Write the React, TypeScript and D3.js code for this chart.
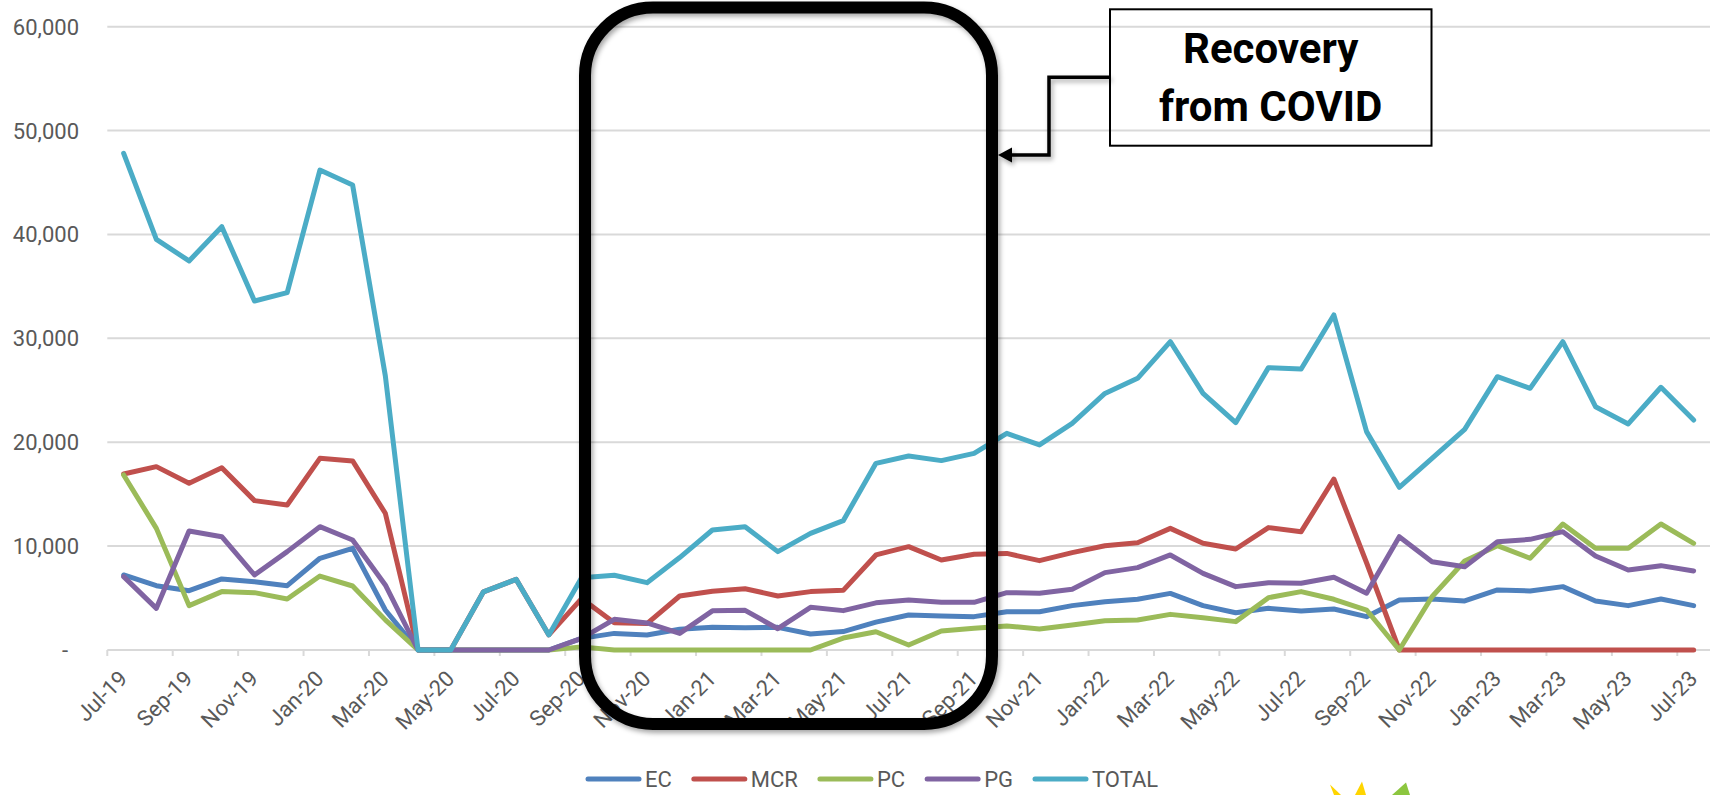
import React, { useEffect, useRef } from "react";
import * as d3 from "d3";

// Monthly categories, Jul-19 .. Jul-23
const months = [
  "Jul-19", "Aug-19", "Sep-19", "Oct-19", "Nov-19", "Dec-19",
  "Jan-20", "Feb-20", "Mar-20", "Apr-20", "May-20", "Jun-20",
  "Jul-20", "Aug-20", "Sep-20", "Oct-20", "Nov-20", "Dec-20",
  "Jan-21", "Feb-21", "Mar-21", "Apr-21", "May-21", "Jun-21",
  "Jul-21", "Aug-21", "Sep-21", "Oct-21", "Nov-21", "Dec-21",
  "Jan-22", "Feb-22", "Mar-22", "Apr-22", "May-22", "Jun-22",
  "Jul-22", "Aug-22", "Sep-22", "Oct-22", "Nov-22", "Dec-22",
  "Jan-23", "Feb-23", "Mar-23", "Apr-23", "May-23", "Jun-23",
  "Jul-23",
];

const ec = [
  7220, 6190, 5710, 6840, 6580, 6190, 8830, 9790, 3850, 0, 0, 0,
  0, 0, 1120, 1600, 1440, 1990, 2180, 2150, 2180, 1540, 1770, 2680,
  3370, 3270, 3210, 3690, 3690, 4270, 4650, 4880, 5450, 4270, 3590, 4010,
  3750, 3950, 3210, 4810, 4910, 4720, 5780, 5680, 6100, 4720, 4270, 4910,
  4270,
];

const mcr = [
  16940, 17650, 16050, 17550, 14380, 13960, 18450, 18200, 13160, 0, 0, 5600,
  6800, 1450, 4950, 2630, 2540, 5200, 5650, 5900, 5200, 5620, 5740, 9150,
  9950, 8660, 9210, 9300, 8600, 9370, 10030, 10330, 11710, 10270, 9720, 11780,
  11390, 16460, 8400, 0, 0, 0, 0, 0, 0, 0, 0, 0,
  0,
];

const pc = [
  16850, 11710, 4270, 5620, 5520, 4910, 7120, 6160, 2900, 0, 0, 0,
  0, 0, 300, 0, 0, 0, 0, 0, 0, 0, 1150, 1760,
  480, 1830, 2090, 2310, 2020, 2410, 2820, 2890, 3430, 3110, 2730, 5040,
  5620, 4880, 3850, 0, 5130, 8570, 10040, 8830, 12130, 9790, 9790, 12130,
  10270,
];

const pg = [
  7060, 4010, 11460, 10910, 7220, 9470, 11870, 10590, 6260, 0, 0, 0,
  0, 0, 1120, 2950, 2600, 1600, 3770, 3820, 2050, 4110, 3790, 4540,
  4810, 4590, 4590, 5520, 5460, 5840, 7450, 7930, 9150, 7380, 6100, 6480,
  6420, 7000, 5460, 10910, 8500, 8020, 10430, 10650, 11390, 9050, 7700, 8120,
  7610,
];

const total = [
  47810, 39530, 37450, 40750, 33600, 34400, 46200, 44760, 26400, 0, 0, 5600,
  6800, 1450, 6950, 7200, 6480, 8900, 11550, 11870, 9470, 11230, 12450, 17970,
  18680, 18230, 18930, 20860, 19740, 21820, 24700, 26150, 29680, 24710, 21880, 27180,
  27050, 32250, 21020, 15660, 18450, 21240, 26310, 25190, 29680, 23420, 21760, 25290,
  22140,
];

const seriesNames = ["EC", "MCR", "PC", "PG", "TOTAL"];
const seriesValues = [ec, mcr, pc, pg, total];
const seriesColors = ["#4F81BD", "#C0504D", "#9BBB59", "#8064A2", "#4BACC6"];

const yTicks = [0, 10000, 20000, 30000, 40000, 50000, 60000];
const calloutLines = ["Recovery", "from COVID"];

const W = 1710;
const H = 795;
const FONT = "Roboto, 'Liberation Sans', Arial, sans-serif";
const TEXT_GREY = "#595959";
const GRID = "#D9D9D9";
const LABEL_SIZE = 22;

export default function App() {
  const ref = useRef<SVGSVGElement>(null);

  useEffect(() => {
    const svg = d3.select(ref.current);
    svg.selectAll("*").remove();

    const plot = { left: 107.3, right: W, top: 26.7, bottom: 650 };

    const x = d3.scaleBand<string>().domain(months).range([plot.left, plot.right]);
    const y = d3.scaleLinear().domain([0, 60000]).range([plot.bottom, plot.top]);
    const cx = (m: string) => (x(m) as number) + x.bandwidth() / 2;

    // shadow used by the hand-drawn call-out shapes
    const defs = svg.append("defs");
    const f = defs.append("filter").attr("id", "soft-shadow")
      .attr("x", "-10%").attr("y", "-10%").attr("width", "120%").attr("height", "120%");
    f.append("feDropShadow").attr("dx", 2).attr("dy", 3)
      .attr("stdDeviation", 2.5).attr("flood-color", "#000").attr("flood-opacity", 0.35);

    svg.append("rect").attr("width", W).attr("height", H).attr("fill", "#fff");

    // horizontal gridlines
    svg.append("g").selectAll("line")
      .data(yTicks)
      .join("line")
      .attr("x1", plot.left).attr("x2", plot.right)
      .attr("y1", (d) => y(d)).attr("y2", (d) => y(d))
      .attr("stroke", GRID).attr("stroke-width", 2);

    // category tick marks every second month
    const tickMonths = months.filter((_, i) => i % 2 === 0);
    svg.append("g").selectAll("line")
      .data(tickMonths)
      .join("line")
      .attr("x1", (d) => x(d) as number).attr("x2", (d) => x(d) as number)
      .attr("y1", y(0)).attr("y2", y(0) + 6)
      .attr("stroke", GRID).attr("stroke-width", 2);

    // value axis labels
    const fmt = d3.format(",");
    svg.append("g").selectAll("text")
      .data(yTicks)
      .join("text")
      .attr("x", (d) => (d === 0 ? 68 : 79))
      .attr("y", (d) => y(d))
      .attr("dy", "0.36em")
      .attr("text-anchor", "end")
      .attr("font-family", FONT).attr("font-size", LABEL_SIZE)
      .attr("fill", TEXT_GREY)
      .text((d) => (d === 0 ? "-" : fmt(d)));

    // category axis labels, rotated
    svg.append("g").selectAll("text")
      .data(tickMonths)
      .join("text")
      .attr("transform", (d) => `translate(${cx(d) + 5},${y(0) + 30}) rotate(-45)`)
      .attr("text-anchor", "end")
      .attr("font-family", FONT).attr("font-size", LABEL_SIZE)
      .attr("fill", TEXT_GREY)
      .text((d) => d);

    // series lines
    const line = d3.line<number>()
      .x((_, i) => cx(months[i]))
      .y((d) => y(d));
    svg.append("g").selectAll("path")
      .data(seriesValues)
      .join("path")
      .attr("d", (d) => line(d) as string)
      .attr("fill", "none")
      .attr("stroke", (_, i) => seriesColors[i])
      .attr("stroke-width", 5)
      .attr("stroke-linejoin", "round")
      .attr("stroke-linecap", "round");

    // legend below the plot
    const lg = svg.append("g");
    const legendX = 586;
    const legendY = 779;
    const swatch = 55;
    const gapAfterSwatch = 4;
    const gapBetween = 20;
    let lx = legendX;
    seriesNames.forEach((name, i) => {
      const g = lg.append("g").attr("transform", `translate(${lx},${legendY})`);
      g.append("line")
        .attr("x1", 2).attr("x2", swatch - 2)
        .attr("y1", 0).attr("y2", 0)
        .attr("stroke", seriesColors[i]).attr("stroke-width", 5)
        .attr("stroke-linecap", "round");
      const t = g.append("text")
        .attr("x", swatch + gapAfterSwatch).attr("y", 0).attr("dy", "0.36em")
        .attr("font-family", FONT).attr("font-size", LABEL_SIZE)
        .attr("fill", TEXT_GREY)
        .text(name);
      const w = (t.node() as SVGTextElement).getComputedTextLength();
      lx += swatch + gapAfterSwatch + w + gapBetween;
    });

    // rounded frame highlighting the recovery period
    svg.append("rect")
      .attr("x", 585).attr("y", 7.5)
      .attr("width", 407).attr("height", 716.5)
      .attr("rx", 68).attr("ry", 68)
      .attr("fill", "none")
      .attr("stroke", "#000").attr("stroke-width", 12)
      .attr("filter", "url(#soft-shadow)");

    // elbow connector from the note to the frame
    const conn = svg.append("g").attr("filter", "url(#soft-shadow)");
    conn.append("path")
      .attr("d", "M1110,77.3 H1049 V155 H1008")
      .attr("fill", "none").attr("stroke", "#000").attr("stroke-width", 3.5);
    conn.append("polygon")
      .attr("points", "998,155 1012,147.5 1012,162.5")
      .attr("fill", "#000");

    // note box
    svg.append("rect")
      .attr("x", 1110).attr("y", 9.3)
      .attr("width", 321.5).attr("height", 136.4)
      .attr("fill", "none").attr("stroke", "#000").attr("stroke-width", 2);
    svg.append("g").selectAll("text")
      .data(calloutLines)
      .join("text")
      .attr("x", 1270.7)
      .attr("y", (_, i) => 63.3 + i * 57.4)
      .attr("text-anchor", "middle")
      .attr("font-family", FONT).attr("font-weight", 700).attr("font-size", 42)
      .attr("fill", "#000")
      .text((d) => d);

    // partial logo rays at the lower edge
    const logo = svg.append("g");
    logo.append("polygon").attr("points", "1330,784.5 1334,795 1341,795").attr("fill", "#FFD500");
    logo.append("polygon").attr("points", "1362,781.5 1355,795 1366,795").attr("fill", "#FFD500");
    logo.append("polygon").attr("points", "1406,782.5 1392,795 1410,795").attr("fill", "#8CC63F");
  }, []);

  return (
    <svg
      ref={ref}
      width={W}
      height={H}
      style={{ position: "absolute", left: 0, top: 0, display: "block" }}
    />
  );
}
